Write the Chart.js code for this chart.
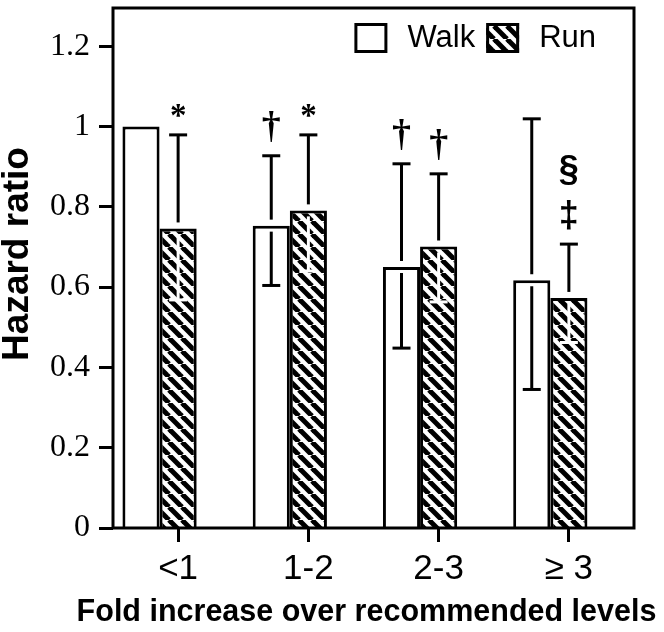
<!DOCTYPE html>
<html>
<head>
<meta charset="utf-8">
<script src="https://cdn.jsdelivr.net/npm/chart.js@4"></script>
<style>
  html, body { margin: 0; padding: 0; background: #fff; }
  #wrap { width: 664px; height: 632px; }
</style>
</head>
<body>
<div id="wrap"><canvas id="chart" width="664" height="632"></canvas></div>
<script>
// values
const categories = ['<1', '1-2', '2-3', '\u2265 3'];
const walkHR = [1.0, 0.753, 0.650, 0.617];
const walkLow = [null, 0.604, 0.448, 0.345];
const walkHigh = [null, 0.927, 0.907, 1.019];
const runHR = [0.746, 0.791, 0.701, 0.573];
const runLow = [0.568, 0.640, 0.563, 0.462];
const runHigh = [0.979, 0.979, 0.882, 0.707];
// significance marks, listed bottom to top
const walkMarks = [[], ['\u2020'], ['\u2020'], []];
const runMarks = [['*'], ['*'], ['\u2020'], ['\u2021', '\u00a7']];
const yTicks = [0, 0.2, 0.4, 0.6, 0.8, 1, 1.2];
const yTickLabels = ['0', '0.2', '0.4', '0.6', '0.8', '1', '1.2'];
const xTitle = 'Fold increase over recommended levels';
const yTitle = 'Hazard ratio';

const SANS = "'Liberation Sans', Arial, sans-serif";
const SERIF = "'Liberation Serif', 'Times New Roman', serif";

const canvas = document.getElementById('chart');

// diagonal hatch used for the Run bars
function makeHatch() {
    const size = 13;
    const tile = document.createElement('canvas');
    tile.width = size;
    tile.height = size;
    const g = tile.getContext('2d');
    g.fillStyle = '#fff';
    g.fillRect(0, 0, size, size);
    g.strokeStyle = '#000';
    g.lineWidth = 5;
    for (const off of [-size, 0, size]) {
        g.beginPath();
        g.moveTo(off, 0);
        g.lineTo(off + size, size);
        g.stroke();
    }
    return canvas.getContext('2d').createPattern(tile, 'repeat');
}

// box around the plot area
const framePlugin = {
    id: 'frame',
    afterDatasetsDraw(chart) {
        const { ctx, chartArea: a } = chart;
        ctx.save();
        ctx.strokeStyle = '#000';
        ctx.lineWidth = 3;
        ctx.strokeRect(a.left, a.top, a.right - a.left, a.bottom - a.top);
        ctx.restore();
    }
};

// axis titles (the x title is wider than the plot, so Chart.js would squeeze it)
const titlePlugin = {
    id: 'axisTitles',
    afterDraw(chart) {
        const { ctx, chartArea: a } = chart;
        ctx.save();
        ctx.fillStyle = '#000';
        ctx.textAlign = 'center';
        ctx.textBaseline = 'middle';
        ctx.font = 'bold 30.5px ' + SANS;
        ctx.fillText(xTitle, (a.left + a.right) / 2 - 7, chart.height - 19);
        ctx.translate(18, (a.top + a.bottom) / 2 - 14);
        ctx.rotate(-Math.PI / 2);
        ctx.font = 'bold 37px ' + SANS;
        ctx.fillText(yTitle, 0, 0);
        ctx.restore();
    }
};

// legend in the top right corner of the plot
const legendPlugin = {
    id: 'innerLegend',
    afterDraw(chart) {
        const { ctx, chartArea: a } = chart;
        const items = chart.data.datasets.filter(ds => ds.label);
        const box = 33, boxH = 30, gap = 20, between = 11;
        ctx.save();
        ctx.font = '31px ' + SANS;
        const widths = items.map(ds => ctx.measureText(ds.label).width);
        const total = widths.reduce((s, w) => s + box + gap + w, 0) + between * (items.length - 1);
        let x = a.right - 38 - total;
        const top = a.top + 15;
        items.forEach((ds, i) => {
            ctx.fillStyle = ds.backgroundColor;
            ctx.fillRect(x, top, box, boxH);
            ctx.strokeStyle = ds.borderColor;
            ctx.lineWidth = 3;
            ctx.strokeRect(x + 1.5, top + 1.5, box - 3, boxH - 3);
            ctx.fillStyle = '#000';
            ctx.textAlign = 'left';
            ctx.textBaseline = 'middle';
            ctx.fillText(ds.label, x + box + gap, top + boxH / 2);
            x += box + gap + widths[i] + between;
        });
        ctx.restore();
    }
};

// error bars plus the marks over them
const errorBarPlugin = {
    id: 'errorBars',
    afterDatasetsDraw(chart) {
        const ctx = chart.ctx;
        const yScale = chart.scales.y;
        const groups = [
            { meta: chart.getDatasetMeta(0), low: walkLow, high: walkHigh, marks: walkMarks, inner: '#000' },
            { meta: chart.getDatasetMeta(1), low: runLow, high: runHigh, marks: runMarks, inner: '#fff' }
        ];
        const seg = (x1, y1, x2, y2) => {
            ctx.beginPath();
            ctx.moveTo(x1, y1);
            ctx.lineTo(x2, y2);
            ctx.stroke();
        };
        ctx.save();
        ctx.lineWidth = 3;
        for (const grp of groups) {
            grp.meta.data.forEach((bar, i) => {
                const x = bar.x;
                let capY = bar.y;
                if (grp.high[i] != null) {
                    const hi = yScale.getPixelForValue(grp.high[i]);
                    const lo = yScale.getPixelForValue(grp.low[i]);
                    ctx.strokeStyle = '#000';
                    seg(x, hi, x, bar.y - 6);
                    seg(x - 9, hi, x + 9, hi);
                    ctx.strokeStyle = grp.inner;
                    seg(x, bar.y + 6, x, lo);
                    seg(x - 9, lo, x + 9, lo);
                    capY = hi;
                }
                let bottom = capY - 14;
                ctx.fillStyle = '#000';
                ctx.textAlign = 'center';
                ctx.textBaseline = 'alphabetic';
                for (const mark of grp.marks[i]) {
                    let lift = 0;
                    if (mark === '*') {
                        ctx.font = 'bold 33px ' + SERIF;
                        lift = 4;
                    } else if (mark === '\u2020') {
                        ctx.font = 'bold 38px ' + SERIF;
                    } else {
                        ctx.font = 'bold 36px ' + SANS;
                    }
                    const m = ctx.measureText(mark);
                    ctx.fillText(mark, x, bottom - lift - m.actualBoundingBoxDescent);
                    bottom = bottom - lift - m.actualBoundingBoxDescent - m.actualBoundingBoxAscent - 14;
                }
            });
        }
        ctx.restore();
    }
};

const hatch = makeHatch();

new Chart(canvas, {
    type: 'bar',
    data: {
        labels: categories,
        datasets: [
            {
                label: 'Walk',
                data: walkHR,
                backgroundColor: '#fff',
                borderColor: '#000',
                borderWidth: 3,
                borderSkipped: 'start'
            },
            {
                label: 'Run',
                data: runHR,
                backgroundColor: hatch,
                borderColor: '#000',
                borderWidth: 3,
                borderSkipped: 'start'
            },
            {
                // empty slot so the Run bar sits on the tick
                label: '',
                data: categories.map(() => null),
                backgroundColor: 'rgba(0,0,0,0)'
            }
        ]
    },
    options: {
        responsive: false,
        animation: false,
        categoryPercentage: 0.855,
        barPercentage: 1,
        layout: { padding: { top: 8, right: 30, left: 0, bottom: 0 } },
        plugins: {
            tooltip: { enabled: false },
            legend: { display: false }
        },
        scales: {
            x: {
                offset: true,
                grid: {
                    offset: false,
                    drawOnChartArea: false,
                    tickLength: 14,
                    tickWidth: 3,
                    tickColor: '#000'
                },
                border: { display: false },
                ticks: {
                    color: '#000',
                    padding: 6,
                    maxRotation: 0,
                    font: { family: SANS, size: 35 }
                },
                afterFit: scale => {
                    scale.height = 104;
                    scale.paddingLeft = 0;
                    scale.paddingRight = 0;
                }
            },
            y: {
                min: 0,
                max: 1.295,
                afterBuildTicks: scale => {
                    scale.ticks = yTicks.map(v => ({ value: v }));
                },
                grid: {
                    drawOnChartArea: false,
                    tickLength: 14,
                    tickWidth: 3,
                    tickColor: '#000'
                },
                border: { display: false },
                ticks: {
                    color: '#000',
                    padding: 9,
                    font: { family: SERIF, size: 32 },
                    callback: (value, index) => yTickLabels[index]
                },
                afterFit: scale => {
                    scale.width = 113;
                    scale.paddingTop = 0;
                    scale.paddingBottom = 0;
                }
            }
        }
    },
    plugins: [errorBarPlugin, framePlugin, legendPlugin, titlePlugin]
});
</script>
</body>
</html>
